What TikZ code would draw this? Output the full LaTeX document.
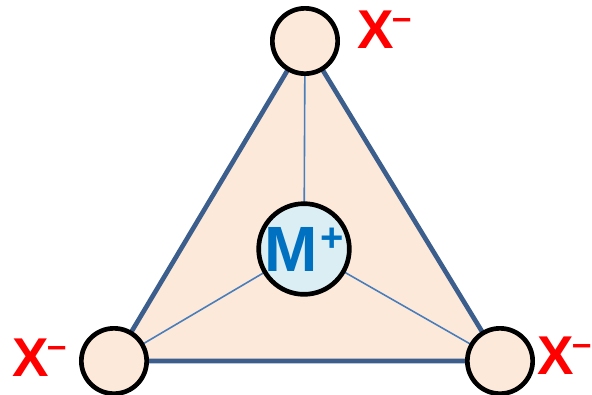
\documentclass[tikz,border=0pt]{standalone}
\usepackage{fontspec}
\setmainfont{Liberation Sans}
\usepackage{xcolor}
\usetikzlibrary{positioning}

\definecolor{peach}{HTML}{FCE9DA}
\definecolor{iceblue}{HTML}{DAEEF3}
\definecolor{edgeblue}{HTML}{3B5E8C}
\definecolor{bondblue}{HTML}{4A7EBB}
\definecolor{ionblue}{HTML}{0070C0}

\newcommand{\anionlabel}{X\kern-1pt\raisebox{14pt}{\fontsize{26}{26}\selectfont –}}

\begin{document}
\begin{tikzpicture}[x=0.75pt, y=-0.75pt]
  \tikzset{
    anion/.style={draw=black, circle, fill=peach, line width=3.5pt, minimum size=49pt, inner sep=0pt},
    cation/.style={draw=black, circle, fill=iceblue, line width=3.5pt, minimum size=68pt, inner sep=0pt,
                   font=\fontsize{48}{48}\selectfont\bfseries, text=ionblue},
    charge/.style={font=\fontsize{41}{41}\selectfont\bfseries, text=red, inner sep=0pt},
  }
  \useasboundingbox (0,0) rectangle (592,394);
  \coordinate (vt) at (305,41);
  \coordinate (vl) at (114,361);
  \coordinate (vr) at (500,361);
  \coordinate (vm) at (304,249);
  % face of the tetrahedron
  \filldraw[fill=peach, draw=edgeblue, line width=3.5pt, line join=round] (vt) -- (vl) -- (vr) -- cycle;
  % bonds to the centre
  \draw[bondblue, line width=1.2pt] (vm) -- (vt);
  \draw[bondblue, line width=1.2pt] (vm) -- (vl);
  \draw[bondblue, line width=1.2pt] (vm) -- (vr);
  % ions
  \node[anion] (xtop) at (vt) {};
  \node[anion] (xleft) at (vl) {};
  \node[anion] (xright) at (vr) {};
  \node[cation] (metal) at (vm) {M\kern2pt\raisebox{15pt}{\fontsize{30}{30}\selectfont +}};
  % charges
  \node[charge, anchor=base west] (ltop) at (357,48) {\anionlabel};
  \node[charge, anchor=base west] (lleft) at (12,376) {\anionlabel};
  \node[charge, anchor=base east] (lright) at (592,374) {\anionlabel};
\end{tikzpicture}
\end{document}
